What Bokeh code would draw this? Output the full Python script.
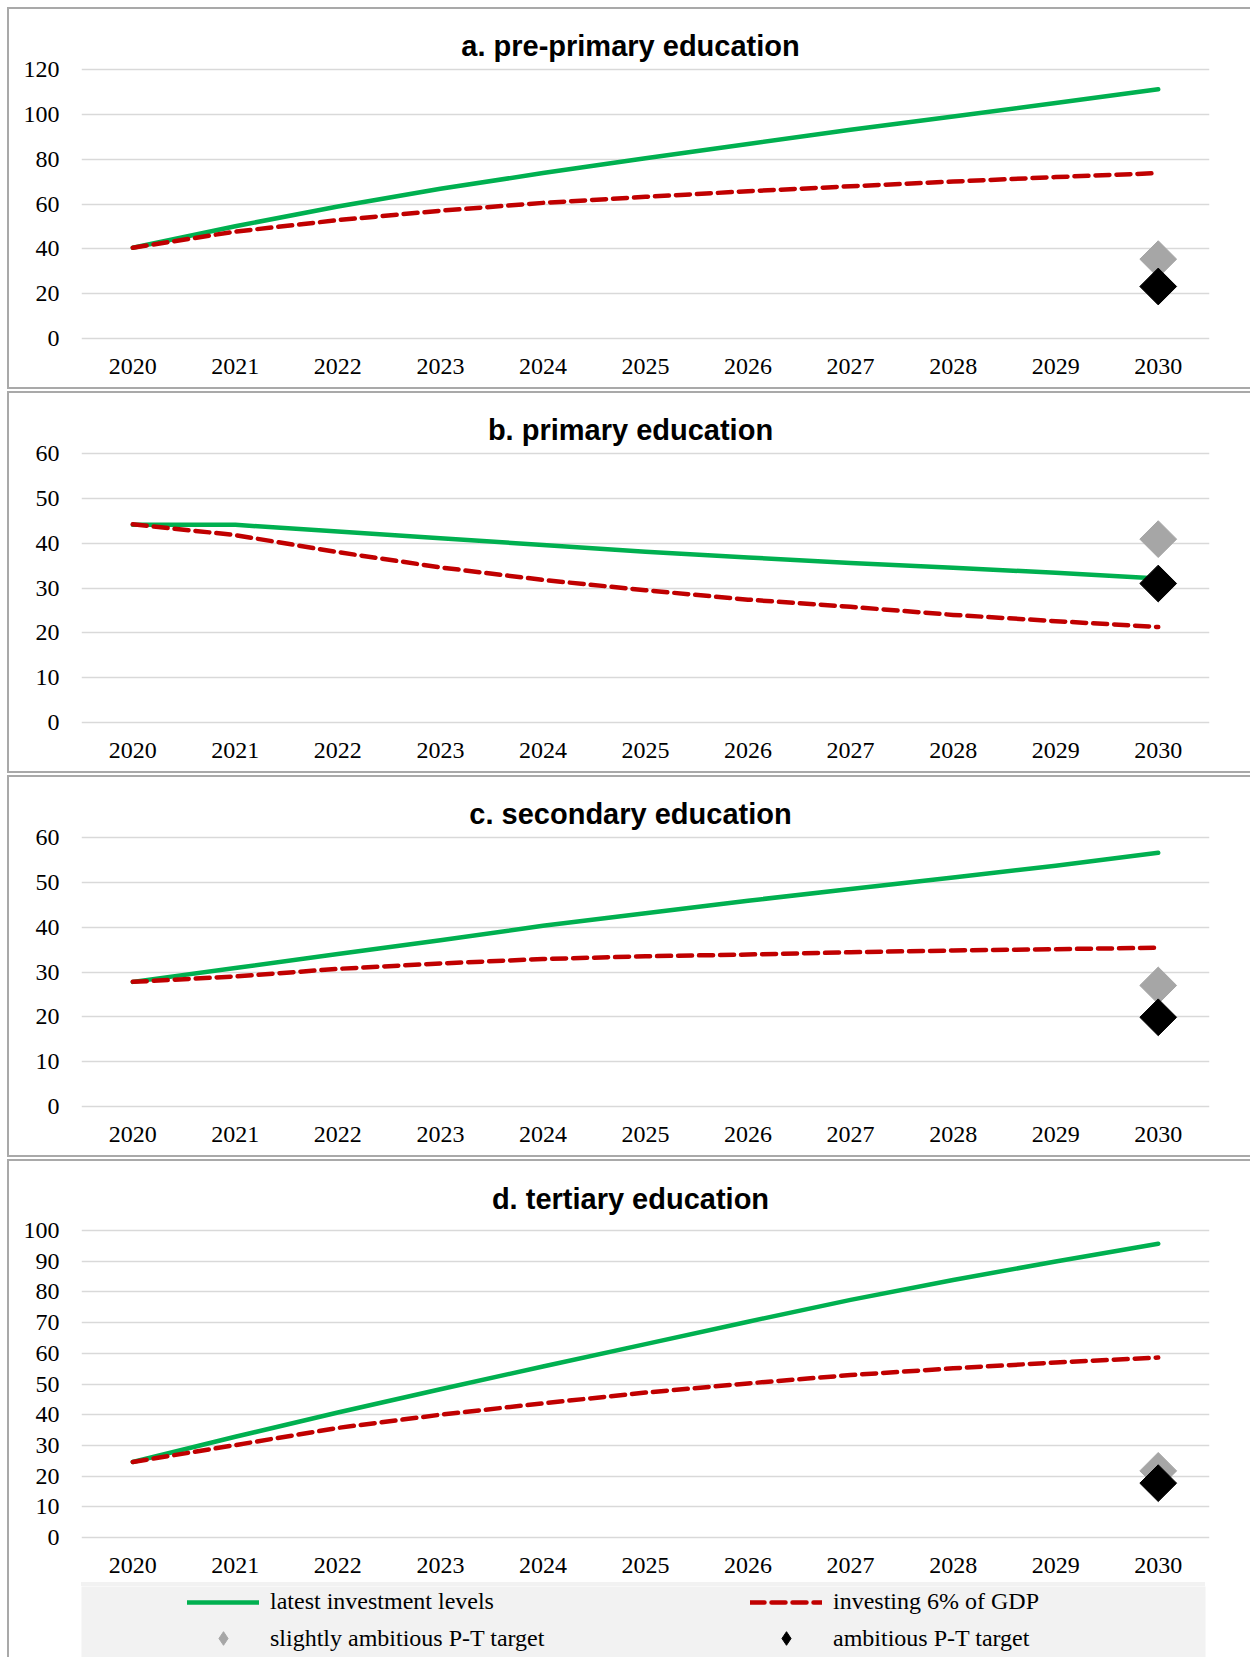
from bokeh.plotting import figure
from bokeh.layouts import column
from bokeh.models import Range1d, FixedTicker, Title, Legend, LegendItem
from bokeh.embed import file_html
from bokeh.resources import INLINE
import math

# ---- data -------------------------------------------------------------
years = [2020, 2021, 2022, 2023, 2024, 2025, 2026, 2027, 2028, 2029, 2030]
target_year = 2030

pre_latest = [40.5, 50.1, 58.9, 66.8, 73.8, 80.4, 86.8, 93.1, 99.0, 105.1, 111.2]
pre_gdp6 = [40.5, 47.7, 52.8, 57.0, 60.5, 63.2, 65.7, 67.9, 70.0, 72.0, 73.8]
pre_slight, pre_ambitious = 35.4, 23.2

pri_latest = [44.1, 44.1, 42.6, 41.1, 39.6, 38.1, 36.8, 35.6, 34.5, 33.4, 32.1]
pri_gdp6 = [44.2, 41.8, 38.0, 34.6, 31.8, 29.5, 27.4, 25.8, 24.0, 22.6, 21.3]
pri_slight, pri_ambitious = 40.9, 31.0

sec_latest = [27.8, 30.9, 34.0, 37.1, 40.3, 43.1, 45.9, 48.5, 51.1, 53.7, 56.6]
sec_gdp6 = [27.8, 29.0, 30.7, 31.9, 32.9, 33.5, 33.9, 34.4, 34.8, 35.1, 35.4]
sec_slight, sec_ambitious = 27.0, 19.9

ter_latest = [24.6, 32.8, 40.7, 48.3, 55.7, 63.0, 70.3, 77.4, 83.9, 89.9, 95.7]
ter_gdp6 = [24.6, 30.1, 35.7, 40.0, 43.7, 47.2, 50.2, 52.9, 55.1, 57.0, 58.6]
ter_slight, ter_ambitious = 21.7, 17.7

titles = ["a. pre-primary education", "b. primary education",
          "c. secondary education", "d. tertiary education"]
y_max = [120, 60, 60, 100]
y_step = [20, 10, 10, 10]

legend_labels = ["latest investment levels", "investing 6% of GDP",
                 "slightly ambitious P-T target", "ambitious P-T target"]

# ---- styling ----------------------------------------------------------
GREEN = "#00b050"
RED = "#c00000"
GREY_T = "#a6a6a6"
BLACK_T = "#000000"
GRID = "#d9d9d9"
BORDER = "#a9a9a9"
LEGEND_BG = "#f2f2f2"
SERIF = "Liberation Serif"
SANS = "Liberation Sans"
TEXT_SIZE = "24px"
TITLE_PX = 29
DASH = "14 7"

PAGE_W = 1250
FRAME_LEFT = 81
FRAME_W = 1128
LEGEND_W = 1124
PAD = 2  # extra pixels around the frame so the outer grid lines stay visible

# advance widths of Liberation Sans Bold (1/1000 em), used to centre titles
_BOLD_W = {" ": 278, ".": 278, "-": 333, "a": 556, "b": 611, "c": 556, "d": 611,
           "e": 556, "i": 278, "m": 889, "n": 611, "o": 611, "p": 611, "r": 389,
           "s": 556, "t": 333, "u": 611, "y": 556}


def bold_width(text, px):
    return sum(_BOLD_W.get(ch, 556) for ch in text) * px / 1000.0


def bar(color, x, y, w, h):
    return (f"linear-gradient({color},{color})", f"{x}px {y}px", f"{w}px {h}px")


def host_styles(layers):
    return {
        "background-color": "white",
        "background-image": ", ".join(l[0] for l in layers),
        "background-position": ", ".join(l[1] for l in layers),
        "background-size": ", ".join(l[2] for l in layers),
        "background-repeat": "no-repeat",
    }


def panel_layers(height, border_top, border_bottom):
    layers = [bar(BORDER, 7, border_top, 2, (border_bottom or height) - border_top),
              bar(BORDER, 7, border_top, PAGE_W, 2)]
    if border_bottom is not None:
        layers.append(bar(BORDER, 7, border_bottom - 2, PAGE_W, 2))
    return layers


def make_panel(i, latest, gdp6, slight, ambitious, data_top, data_h, height,
               border_top, border_bottom, title_y, extra_layers=()):
    frame_h = data_h + 2 * PAD
    frame_top = data_top - PAD
    unit = y_max[i] / data_h
    p = figure(frame_width=FRAME_W, frame_height=frame_h,
               min_border_left=FRAME_LEFT, min_border_right=PAGE_W - FRAME_LEFT - FRAME_W,
               min_border_top=frame_top, min_border_bottom=height - frame_top - frame_h,
               x_range=Range1d(2019.5, 2030.5),
               y_range=Range1d(-PAD * unit, y_max[i] + PAD * unit),
               output_backend="svg", toolbar_location=None)
    p.outline_line_color = None
    p.background_fill_color = "white"
    p.border_fill_alpha = 0

    p.xgrid.grid_line_color = None
    p.ygrid.grid_line_color = GRID
    p.ygrid.grid_line_width = 1.5

    p.xaxis.ticker = FixedTicker(ticks=years)
    p.yaxis.ticker = FixedTicker(ticks=list(range(0, y_max[i] + 1, y_step[i])))
    for ax in (p.xaxis, p.yaxis):
        ax.axis_line_color = None
        ax.major_tick_line_color = None
        ax.minor_tick_line_color = None
        ax.major_tick_out = 0
        ax.major_tick_in = 0
        ax.major_label_text_font = SERIF
        ax.major_label_text_font_size = TEXT_SIZE
        ax.major_label_text_color = "black"
    p.yaxis.major_label_standoff = 20 + PAD
    p.xaxis.major_label_standoff = 18

    p.line(years, latest, line_color=GREEN, line_width=4.5,
           line_cap="round", line_join="round")
    p.line(years, gdp6, line_color=RED, line_width=4.5,
           line_dash=DASH, line_cap="round", line_join="round")
    p.scatter([target_year], [slight], marker="square", size=26,
              angle=math.pi / 4, fill_color=GREY_T, line_color=GREY_T)
    p.scatter([target_year], [ambitious], marker="square", size=26,
              angle=math.pi / 4, fill_color=BLACK_T, line_color=BLACK_T)

    # title centred on the whole panel, not on the plotting frame
    offset = 630 - bold_width(titles[i], TITLE_PX) / 2 - FRAME_LEFT
    p.add_layout(Title(text=titles[i], align="left", offset=offset,
                       standoff=frame_top - title_y - 16,
                       text_font=SANS, text_font_style="bold",
                       text_font_size=f"{TITLE_PX}px", text_color="black"), "above")

    p.styles = host_styles(panel_layers(height, border_top, border_bottom) + list(extra_layers))
    return p


P4_H = 429
p1 = make_panel(0, pre_latest, pre_gdp6, pre_slight, pre_ambitious,
                69, 269, 389, 7, 389, 39.3)
p2 = make_panel(1, pri_latest, pri_gdp6, pri_slight, pri_ambitious,
                64, 269, 384, 2, 384, 35.3)
p3 = make_panel(2, sec_latest, sec_gdp6, sec_slight, sec_ambitious,
                64, 269, 384, 2, 384, 34.3)
p4 = make_panel(3, ter_latest, ter_gdp6, ter_slight, ter_ambitious,
                73, 307, P4_H, 2, None, 28.3,
                extra_layers=[bar(LEGEND_BG, FRAME_LEFT, 425, LEGEND_W, P4_H - 425)])

# ---- legend strip under the last panel ---------------------------------
LEG_H = 500 - P4_H
leg = figure(frame_width=LEGEND_W, frame_height=LEG_H,
             min_border_left=FRAME_LEFT, min_border_right=PAGE_W - FRAME_LEFT - LEGEND_W,
             min_border_top=0, min_border_bottom=0,
             x_range=Range1d(0, 1), y_range=Range1d(0, 1),
             x_axis_location=None, y_axis_location=None,
             output_backend="svg", toolbar_location=None)
leg.grid.visible = False
leg.outline_line_color = None
leg.background_fill_color = LEGEND_BG
leg.border_fill_alpha = 0
leg.styles = host_styles([bar(BORDER, 7, 0, 2, LEG_H)])

# legend keys: one placeholder point each (nothing lands inside the strip)
nan = float("nan")
k_lat = leg.line([nan], [nan], line_color=GREEN, line_width=4.5, line_cap="round")
k_gdp = leg.line([nan], [nan], line_color=RED, line_width=4.5, line_dash=DASH,
                 line_cap="round")
k_sl = leg.scatter([nan], [nan], marker="diamond", fill_color=GREY_T, line_color=GREY_T)
k_am = leg.scatter([nan], [nan], marker="diamond", fill_color=BLACK_T, line_color=BLACK_T)

rows = [([(legend_labels[0], k_lat), (legend_labels[1], k_gdp)], (106, 42), 24),
        ([(legend_labels[2], k_sl), (legend_labels[3], k_am)], (106, 2), 34)]
for row, loc, gh in rows:
    lg = Legend(items=[LegendItem(label=t, renderers=[r]) for t, r in row],
                orientation="horizontal", location=loc,
                glyph_width=72, glyph_height=gh, label_height=24,
                label_width=300, label_standoff=11, spacing=180,
                padding=0, margin=0, border_line_color=None,
                background_fill_alpha=0,
                label_text_font=SERIF, label_text_font_size=TEXT_SIZE,
                label_text_color="black")
    leg.add_layout(lg)

page = column(p1, p2, p3, p4, leg, spacing=0)
open("out.html", "w").write(file_html(page, INLINE, title="Education investment scenarios"))
